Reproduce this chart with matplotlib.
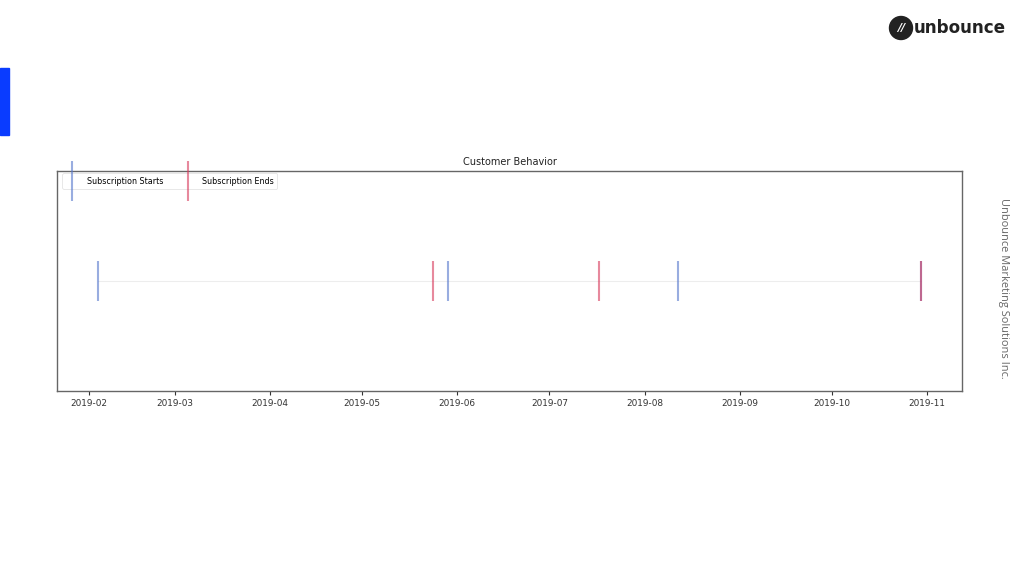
import numpy as np
import matplotlib
matplotlib.use('Agg')
import matplotlib.pyplot as plt
import matplotlib.dates as mdates
from matplotlib.patches import Ellipse, Rectangle

#--------------------------------------------#
# data
starts = np.array(['2019-02-04', '2019-05-29', '2019-08-12', '2019-10-30'], dtype='datetime64[D]')
ends = np.array(['2019-05-24', '2019-07-17', '2019-10-30'], dtype='datetime64[D]')
labels = ['Subscription Starts', 'Subscription Ends']
title = 'Customer Behavior'
footer = 'Unbounce Marketing Solutions Inc.'

#--------------------------------------------#
# slide
fig = plt.figure(figsize=(10.24, 5.76), dpi=100)
fig.patch.set_facecolor('white')

# blue tab on the left
fig.patches.append(Rectangle((0, 1 - 135/576), 9/1024, 67/576, transform=fig.transFigure,
                             color='#0a3cff', zorder=5))

# logo
lx, ly = 901/1024, 1 - 28/576
fig.patches.append(Ellipse((lx, ly), 23/1024, 23/576, transform=fig.transFigure,
                           color='#222222', zorder=1))
fig.text(lx, ly, '//', color='white', fontsize=8, fontweight='bold', ha='center', va='center',
         style='italic', zorder=10)
fig.text(914/1024, ly, 'unbounce', color='#222222', fontsize=12.1, fontweight='bold',
         ha='left', va='center', family='DejaVu Sans')

# side text
fig.text(1003/1024, 1 - 288/576, footer, rotation=-90, fontsize=7.9, color='#666666',
         ha='center', va='center', family='Open Sans')

#--------------------------------------------#
# chart
ax = fig.add_axes([57/1024, 1 - 391/576, 905/1024, 220/576])
first, last = min(starts.min(), ends.min()), max(starts.max(), ends.max())
ax.plot([first, last], [0, 0], color='#dddddd', lw=0.8, alpha=0.5)
ax.plot(starts, np.zeros(len(starts)), '|', color='#5577cc', alpha=0.6, markersize=29,
        markeredgewidth=1.5, label=labels[0])
ax.plot(ends, np.zeros(len(ends)), '|', color='#d83a5c', alpha=0.6, markersize=29,
        markeredgewidth=1.5, label=labels[1])

ax.set_ylim(-1, 1)
ax.set_yticks([])
ax.xaxis.set_major_locator(mdates.MonthLocator())
ax.xaxis.set_major_formatter(mdates.DateFormatter('%Y-%m'))
ax.tick_params(axis='x', labelsize=6.4, length=3, colors='#333333', pad=3)
for s in ax.spines.values():
    s.set_color('#666666')
    s.set_linewidth(1.0)
ax.set_title(title, fontsize=7, color='#222222', pad=4)
leg = ax.legend(loc='upper left', bbox_to_anchor=(3/905, 1), ncol=2, fontsize=5.8,
                frameon=True, borderaxespad=0.3, handlelength=1.7, handletextpad=1.0,
                columnspacing=2.1)
leg.get_frame().set_edgecolor('#dddddd')
leg.get_frame().set_linewidth(0.6)

fig.savefig('out.png', dpi=100)
